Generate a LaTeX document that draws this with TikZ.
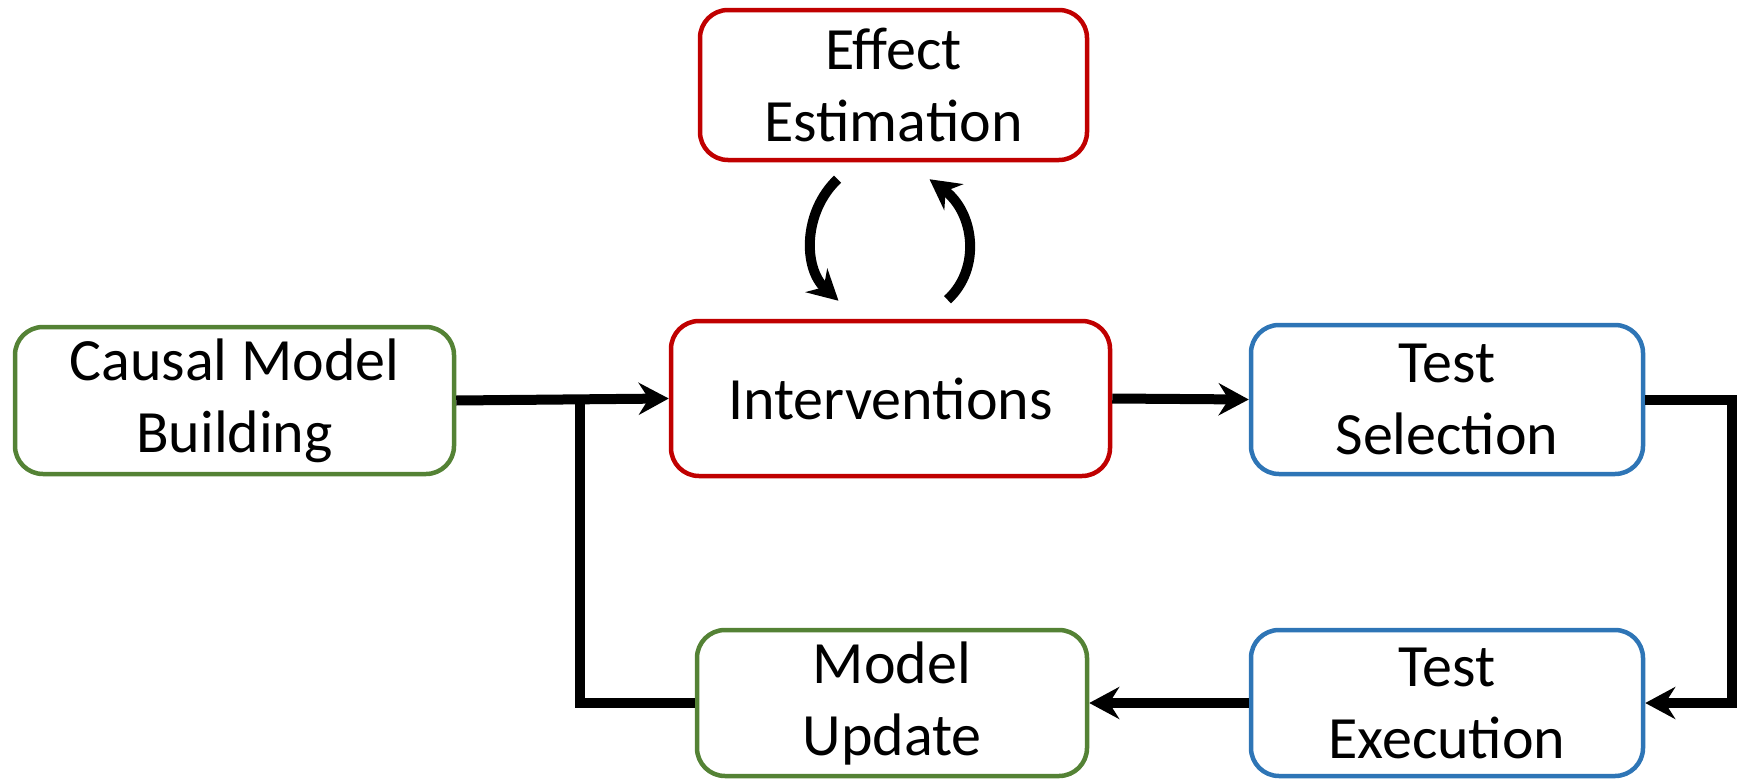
\documentclass[tikz,border=0pt]{standalone}
\usepackage{fontspec}
\setmainfont{Carlito}
\usetikzlibrary{arrows.meta,calc}
\definecolor{cred}{HTML}{C00000}
\definecolor{cgreen}{HTML}{548235}
\definecolor{cblue}{HTML}{2E75B6}
\tikzset{
 box/.style={draw, line width=4.5pt, rounded corners=28pt, fill=white, align=center,
   font=\fontsize{60}{72}\selectfont, inner sep=0pt},
 arr/.style={line width=10pt, -{Stealth[length=30pt,width=32pt,inset=10pt]}, line join=miter},
 ln/.style={line width=10pt, line join=miter}
}
\begin{document}
\begin{tikzpicture}[x=1pt,y=-1pt]
\useasboundingbox (0,0) rectangle (1743,779);
\node[box, draw=cred, minimum width=387pt, minimum height=150pt] (ee) at (893.5,85) {Effect\\Estimation};
\node[box, draw=cred, minimum width=439pt, minimum height=155pt] (iv) at (890.5,398.5) {Interventions};
\node[box, draw=cgreen, minimum width=439pt, minimum height=147pt] (cm) at (234.5,400.5) {Causal Model\\Building};
\node[box, draw=cblue, minimum width=392pt, minimum height=149pt] (ts) at (1447,399.5) {Test\\Selection};
\node[box, draw=cblue, minimum width=392pt, minimum height=146pt] (te) at (1447,703) {Test\\Execution};
\node[box, draw=cgreen, minimum width=390pt, minimum height=146pt] (mu) at (892,703) {Model\\Update};
\coordinate (j) at (580,0);
\coordinate (rc) at (1732,0);
% connectors
\draw[arr] (cm.east) -- (iv.west);
\draw[arr] (iv.east) -- (ts.west);
\draw[arr] (ts.east) -| (rc |- te.east) -- (te.east);
\draw[arr] (te.west) -- (mu.east);
\draw[ln] (mu.west) -| (j |- cm.east);
% curved arrows between Effect Estimation and Interventions
\draw[arr] ($(ee.south)+(-56,17)$) .. controls (803,212) and (803,268) .. ($(iv.north)+(-52,-18)$);
\draw[arr] ($(iv.north)+(57,-19)$) .. controls (982,268) and (974,212) .. ($(ee.south)+(36,17)$);
\end{tikzpicture}
\end{document}
